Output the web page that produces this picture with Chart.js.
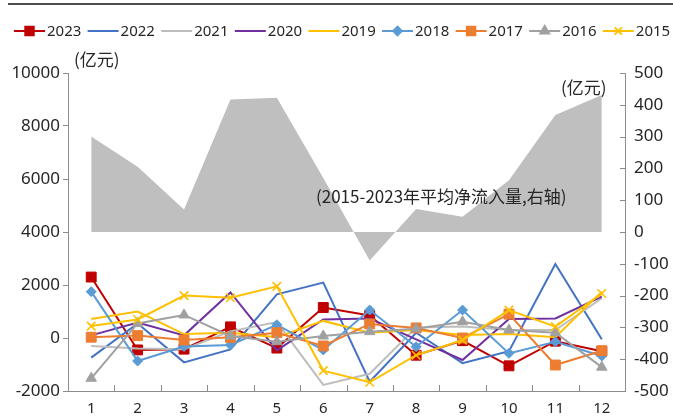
<!DOCTYPE html>
<html>
<head>
<meta charset="utf-8">
<script src="https://cdn.jsdelivr.net/npm/chart.js@4.4.1/dist/chart.umd.min.js"></script>
<style>
  html, body { margin: 0; padding: 0; background: #fff; }
  #wrap { width: 673px; height: 417px; position: relative; }
</style>
</head>
<body>
<div id="wrap"><canvas id="c" width="673" height="417"></canvas></div>
<script>
// Monthly net inflow by year (left axis, 亿元)
const months = ['1', '2', '3', '4', '5', '6', '7', '8', '9', '10', '11', '12'];
const y2023 = [2300, -450, -420, 420, -380, 1150, 850, -650, -100, -1050, -120, -500];
const y2022 = [-740, 550, -920, -430, 1650, 2090, -1650, 200, -950, -500, 2790, -50];
const y2021 = [-300, -400, -420, 250, 600, -1770, -1350, 400, 430, 300, 300, 1500];
const y2020 = [100, 580, 100, 1720, -470, 700, 740, -50, -830, 716, 740, 1560];
const y2019 = [720, 1000, 150, 200, 30, 645, 200, 300, 110, 150, 30, 1750];
const y2018 = [1750, -870, -320, -260, 500, -450, 1055, -330, 1055, -580, -140, -680];
const y2017 = [30, 90, -75, 25, 200, -300, 530, 380, 0, 900, -1020, -480];
const y2016 = [-1520, 550, 870, 75, -140, 75, 240, 350, 615, 300, 200, -1100];
const y2015 = [450, 700, 1600, 1520, 1950, -1230, -1670, -650, -80, 1050, 430, 1680];
// 2015-2023 average monthly net inflow (right axis)
const avgInflow = [300, 205, 71, 417, 422, 170, -90, 72, 48, 163, 368, 431];

const leftTicks = [-2000, 0, 2000, 4000, 6000, 8000, 10000];
const rightTicks = [-500, -400, -300, -200, -100, 0, 100, 200, 300, 400, 500];

const FONT = "'Noto Sans', 'Noto Sans CJK SC', sans-serif";
const CJK = "'Noto Sans CJK SC', 'Noto Sans', sans-serif";
const TEXT = '#262626';
const AXIS = '#8c8c8c';

const series = [
  { label: '2023', data: y2023, color: '#C00000', point: 'rect', r: 7 },
  { label: '2022', data: y2022, color: '#4472C4', point: false, r: 0 },
  { label: '2021', data: y2021, color: '#BDBDBD', point: false, r: 0 },
  { label: '2020', data: y2020, color: '#7030A0', point: false, r: 0 },
  { label: '2019', data: y2019, color: '#FFC000', point: false, r: 0 },
  { label: '2018', data: y2018, color: '#5B9BD5', point: 'rectRot', r: 5 },
  { label: '2017', data: y2017, color: '#ED7D31', point: 'rect', r: 7 },
  { label: '2016', data: y2016, color: '#A0A0A0', point: 'triangle', r: 6 },
  { label: '2015', data: y2015, color: '#FFC000', point: 'crossRot', r: 6 }
];

const lineSets = series.map((s, i) => ({
  type: 'line',
  label: s.label,
  data: s.data,
  yAxisID: 'y',
  borderColor: s.color,
  backgroundColor: s.color,
  borderWidth: 2,
  pointStyle: s.point || 'circle',
  pointRadius: s.point ? s.r : 0,
  pointBorderWidth: s.point === 'crossRot' ? 1.6 : 1,
  pointBorderColor: s.color,
  pointBackgroundColor: s.color,
  tension: 0,
  fill: false,
  order: 9 - i
}));

const areaSet = {
  type: 'line',
  label: '(2015-2023年平均净流入量,右轴)',
  data: avgInflow,
  yAxisID: 'y1',
  borderWidth: 0,
  borderColor: 'rgba(0,0,0,0)',
  backgroundColor: '#BFBFBF',
  pointRadius: 0,
  tension: 0,
  fill: 'origin',
  order: 20
};

// Legend, unit labels, inward tick marks and the top rule
const decor = {
  id: 'decor',
  afterDraw(chart) {
    const ctx = chart.ctx;
    const area = chart.chartArea;
    ctx.save();

    // top rule
    ctx.strokeStyle = '#4d4d4d';
    ctx.lineWidth = 2;
    ctx.beginPath();
    ctx.moveTo(8, 4);
    ctx.lineTo(673, 4);
    ctx.stroke();

    // x ticks between categories, pointing up
    const step = (area.right - area.left) / months.length;
    ctx.strokeStyle = AXIS;
    ctx.lineWidth = 1;
    ctx.beginPath();
    for (let i = 1; i < months.length; i++) {
      const x = Math.round(area.left + i * step) + 0.5;
      ctx.moveTo(x, area.bottom);
      ctx.lineTo(x, area.bottom - 6);
    }
    // right axis ticks, pointing inward
    const y1 = chart.scales.y1;
    rightTicks.forEach(v => {
      const y = Math.round(y1.getPixelForValue(v)) + 0.5;
      ctx.moveTo(area.right - 5, y);
      ctx.lineTo(area.right, y);
    });
    ctx.stroke();

    // unit labels and note
    ctx.fillStyle = TEXT;
    ctx.textBaseline = 'middle';
    ctx.textAlign = 'left';
    ctx.font = '17px ' + CJK;
    ctx.fillText('(亿元)', 74, 60);
    ctx.fillText('(亿元)', 561, 88);
    ctx.fillText('(2015-2023年平均净流入量,右轴)', 316, 197);

    // legend
    ctx.font = '15px ' + FONT;
    series.forEach((s, i) => {
      const x0 = 14 + i * 73.6;
      const y = 31;
      ctx.strokeStyle = s.color;
      ctx.lineWidth = 2;
      ctx.beginPath();
      ctx.moveTo(x0, y);
      ctx.lineTo(x0 + 31, y);
      ctx.stroke();
      if (s.point) {
        ctx.fillStyle = s.color;
        ctx.strokeStyle = s.color;
        ctx.beginPath();
        Chart.helpers.drawPoint(ctx, {
          pointStyle: s.point,
          radius: s.r * 0.85,
          borderWidth: s.point === 'crossRot' ? 1.6 : 1
        }, x0 + 15.5, y);
      }
      ctx.fillStyle = TEXT;
      ctx.textAlign = 'left';
      ctx.fillText(s.label, x0 + 33, y + 1);
    });
    ctx.restore();
  }
};

new Chart(document.getElementById('c'), {
  data: {
    labels: months,
    datasets: [...lineSets, areaSet]
  },
  options: {
    responsive: false,
    animation: false,
    devicePixelRatio: 1,
    layout: { padding: { top: 73, left: 0, right: 0, bottom: 0 } },
    plugins: {
      legend: { display: false },
      tooltip: { enabled: false }
    },
    scales: {
      x: {
        type: 'category',
        offset: true,
        grid: { display: true, drawOnChartArea: false, drawTicks: false, offset: true, color: AXIS },
        border: { display: true, color: AXIS, width: 1 },
        ticks: { color: TEXT, font: { family: FONT, size: 15 }, padding: 9, maxRotation: 0 },
        afterFit(s) { s.height = 26; }
      },
      y: {
        position: 'left',
        min: -2000,
        max: 10000,
        afterBuildTicks(s) { s.ticks = leftTicks.map(v => ({ value: v })); },
        grid: { drawOnChartArea: false, drawTicks: true, tickLength: 5, color: AXIS },
        border: { display: true, color: AXIS, width: 1 },
        ticks: { color: TEXT, font: { family: FONT, size: 17 }, padding: 3, callback: v => String(v) },
        afterFit(s) { s.width = 68; }
      },
      y1: {
        position: 'right',
        min: -500,
        max: 500,
        afterBuildTicks(s) { s.ticks = rightTicks.map(v => ({ value: v })); },
        grid: { drawOnChartArea: false, drawTicks: false, color: AXIS },
        border: { display: true, color: AXIS, width: 1 },
        ticks: { color: TEXT, font: { family: FONT, size: 17 }, padding: 9, callback: v => String(v) },
        afterFit(s) { s.width = 48; }
      }
    }
  },
  plugins: [decor]
});
</script>
</body>
</html>
